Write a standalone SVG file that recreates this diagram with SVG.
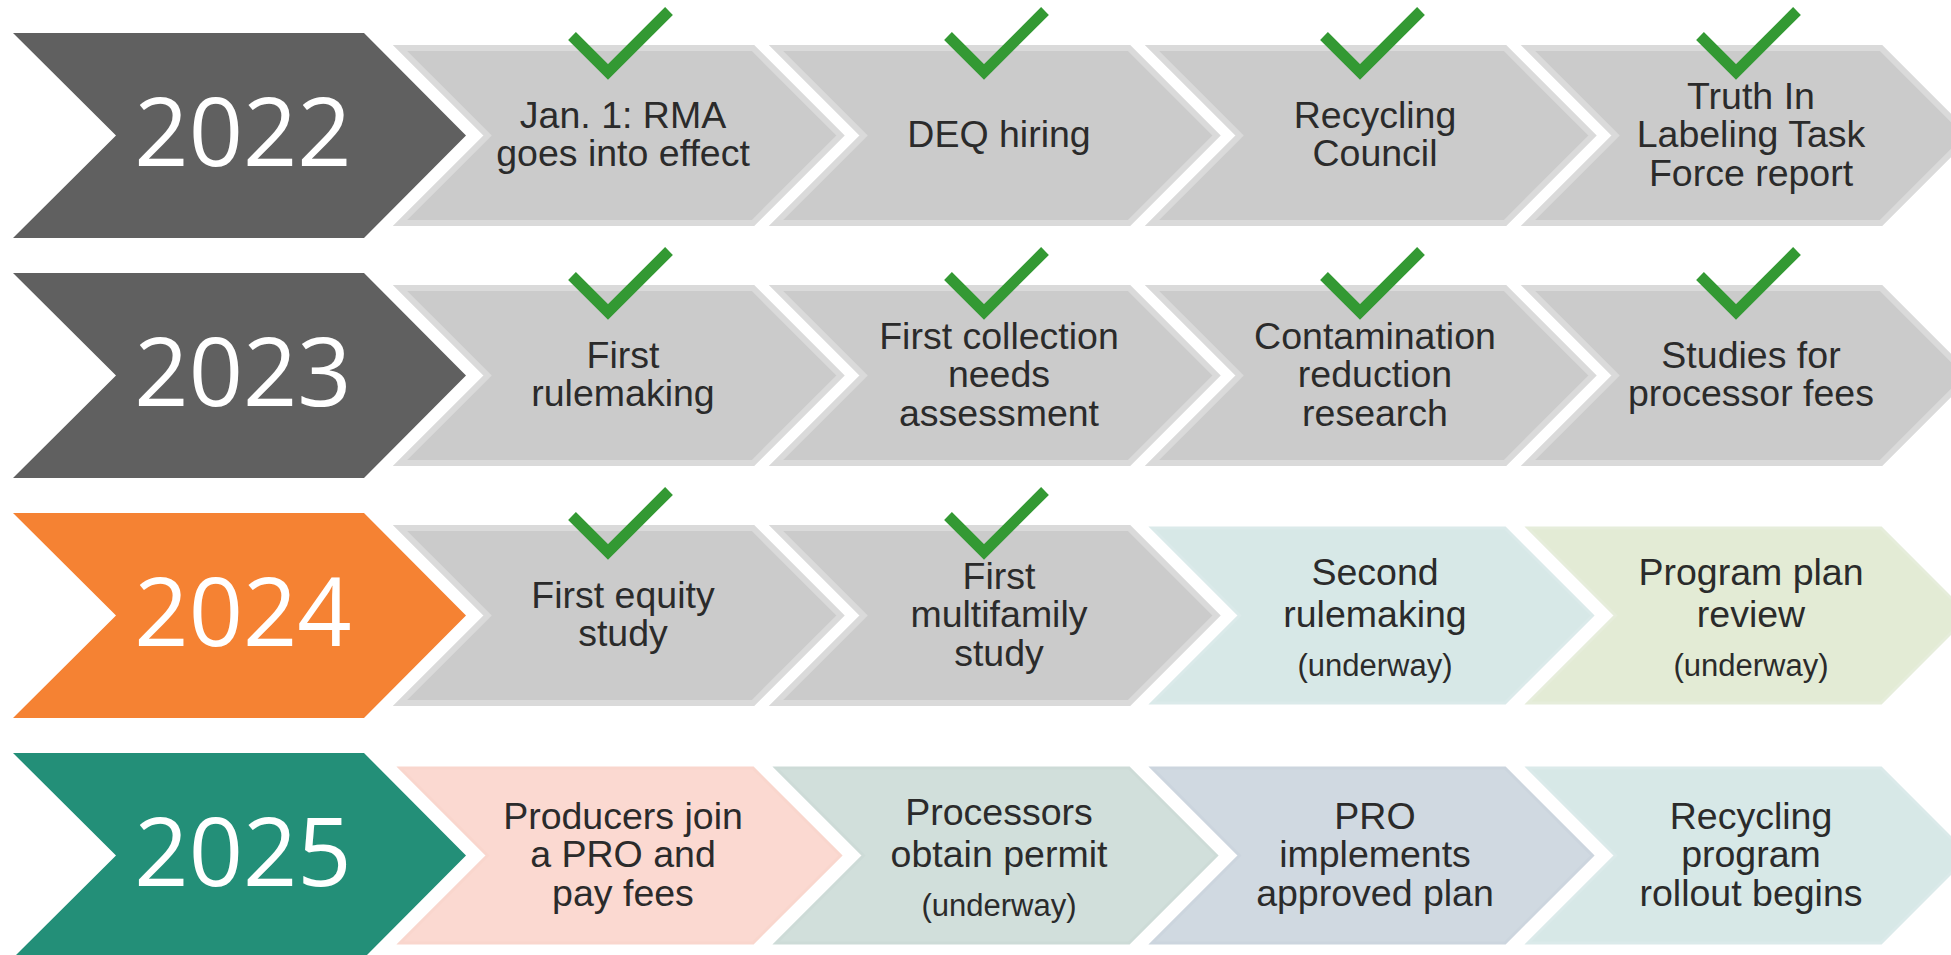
<svg xmlns="http://www.w3.org/2000/svg" xmlns:xlink="http://www.w3.org/1999/xlink" width="1951" height="955" viewBox="0 0 1951 955">
<style>
.yr{font-family:"Open Sans","Noto Sans",sans-serif;font-size:95px;fill:#ffffff;text-anchor:middle}
.t{font-family:"Liberation Sans",Arial,sans-serif;font-size:37.5px;fill:#2b2b2b;text-anchor:middle}
.s{font-size:31px}
.ck{fill:none;stroke:#339933;stroke-width:11;stroke-linejoin:miter;stroke-linecap:butt}
.g{fill:#cbcbcb;stroke:#dadada;stroke-width:6}
.dk{fill:#606060}
.or{fill:#f58233}
.tl{fill:#238f78}
.lb{fill:#d7e8e7;stroke:#dbeaea;stroke-width:3}
.lg{fill:#e3ebd5;stroke:#e6eddb;stroke-width:3}
.pk{fill:#fbd9d1;stroke:#f9d6cd;stroke-width:3}
.gg{fill:#d1dfdb;stroke:#cddbd7;stroke-width:3}
.bg{fill:#d0d9e1;stroke:#ccd5de;stroke-width:3}
</style>
<defs>
<path id="yc" d="M13,33 H364 L466,135.5 L364,238 H13 L116,135.5Z"/>
<path id="sc" d="M4,48 H357 L444.5,135.5 L357,223 H4 L91.5,135.5Z"/>
<path id="ckm" d="M-36,-36 L0,0 L61,-61"/>
</defs>
<rect width="1951" height="955" fill="#ffffff"/>
<g id="connectors"/>

<g id="row-2022">
<g id="y2022"><use xlink:href="#yc" class="dk"/><text class="yr" x="243" y="166">2022</text></g>
<g id="n2022-1" transform="translate(396,0)"><use xlink:href="#sc" class="g"/><use xlink:href="#ckm" class="ck" x="212" y="72"/><text class="t"><tspan x="227" y="127.5">Jan. 1: RMA</tspan><tspan x="227" y="166">goes into effect</tspan></text></g>
<g id="n2022-2" transform="translate(772,0)"><use xlink:href="#sc" class="g"/><use xlink:href="#ckm" class="ck" x="212" y="72"/><text class="t"><tspan x="227" y="147">DEQ hiring</tspan></text></g>
<g id="n2022-3" transform="translate(1148,0)"><use xlink:href="#sc" class="g"/><use xlink:href="#ckm" class="ck" x="212" y="72"/><text class="t"><tspan x="227" y="127.5">Recycling</tspan><tspan x="227" y="166">Council</tspan></text></g>
<g id="n2022-4" transform="translate(1524,0)"><use xlink:href="#sc" class="g"/><use xlink:href="#ckm" class="ck" x="212" y="72"/><text class="t"><tspan x="227" y="108.5">Truth In</tspan><tspan x="227" y="147">Labeling Task</tspan><tspan x="227" y="185.5">Force report</tspan></text></g>
</g>

<g id="row-2023" transform="translate(0,240)">
<g id="y2023"><use xlink:href="#yc" class="dk"/><text class="yr" x="243" y="166">2023</text></g>
<g id="n2023-1" transform="translate(396,0)"><use xlink:href="#sc" class="g"/><use xlink:href="#ckm" class="ck" x="212" y="72"/><text class="t"><tspan x="227" y="127.5">First</tspan><tspan x="227" y="166">rulemaking</tspan></text></g>
<g id="n2023-2" transform="translate(772,0)"><use xlink:href="#sc" class="g"/><use xlink:href="#ckm" class="ck" x="212" y="72"/><text class="t"><tspan x="227" y="108.5">First collection</tspan><tspan x="227" y="147">needs</tspan><tspan x="227" y="185.5">assessment</tspan></text></g>
<g id="n2023-3" transform="translate(1148,0)"><use xlink:href="#sc" class="g"/><use xlink:href="#ckm" class="ck" x="212" y="72"/><text class="t"><tspan x="227" y="108.5">Contamination</tspan><tspan x="227" y="147">reduction</tspan><tspan x="227" y="185.5">research</tspan></text></g>
<g id="n2023-4" transform="translate(1524,0)"><use xlink:href="#sc" class="g"/><use xlink:href="#ckm" class="ck" x="212" y="72"/><text class="t"><tspan x="227" y="127.5">Studies for</tspan><tspan x="227" y="166">processor fees</tspan></text></g>
</g>

<g id="row-2024" transform="translate(0,480)">
<g id="y2024"><use xlink:href="#yc" class="or"/><text class="yr" x="243" y="166">2024</text></g>
<g id="n2024-1" transform="translate(396,0)"><use xlink:href="#sc" class="g"/><use xlink:href="#ckm" class="ck" x="212" y="72"/><text class="t"><tspan x="227" y="127.5">First equity</tspan><tspan x="227" y="166">study</tspan></text></g>
<g id="n2024-2" transform="translate(772,0)"><use xlink:href="#sc" class="g"/><use xlink:href="#ckm" class="ck" x="212" y="72"/><text class="t"><tspan x="227" y="108.5">First</tspan><tspan x="227" y="147">multifamily</tspan><tspan x="227" y="185.5">study</tspan></text></g>
<g id="n2024-3" transform="translate(1148,0)"><use xlink:href="#sc" class="lb"/><text class="t"><tspan x="227" y="104.5">Second</tspan><tspan x="227" y="146.5">rulemaking</tspan><tspan x="227" y="195.5" class="s">(underway)</tspan></text></g>
<g id="n2024-4" transform="translate(1524,0)"><use xlink:href="#sc" class="lg"/><text class="t"><tspan x="227" y="104.5">Program plan</tspan><tspan x="227" y="146.5">review</tspan><tspan x="227" y="195.5" class="s">(underway)</tspan></text></g>
</g>

<g id="row-2025" transform="translate(0,720)">
<g id="y2025"><use xlink:href="#yc" class="tl"/><text class="yr" x="243" y="166">2025</text></g>
<g id="n2025-1" transform="translate(396,0)"><use xlink:href="#sc" class="pk"/><text class="t"><tspan x="227" y="108.5">Producers join</tspan><tspan x="227" y="147">a PRO and</tspan><tspan x="227" y="185.5">pay fees</tspan></text></g>
<g id="n2025-2" transform="translate(772,0)"><use xlink:href="#sc" class="gg"/><text class="t"><tspan x="227" y="104.5">Processors</tspan><tspan x="227" y="146.5">obtain permit</tspan><tspan x="227" y="195.5" class="s">(underway)</tspan></text></g>
<g id="n2025-3" transform="translate(1148,0)"><use xlink:href="#sc" class="bg"/><text class="t"><tspan x="227" y="108.5">PRO</tspan><tspan x="227" y="147">implements</tspan><tspan x="227" y="185.5">approved plan</tspan></text></g>
<g id="n2025-4" transform="translate(1524,0)"><use xlink:href="#sc" class="lb"/><text class="t"><tspan x="227" y="108.5">Recycling</tspan><tspan x="227" y="147">program</tspan><tspan x="227" y="185.5">rollout begins</tspan></text></g>
</g>
</svg>
